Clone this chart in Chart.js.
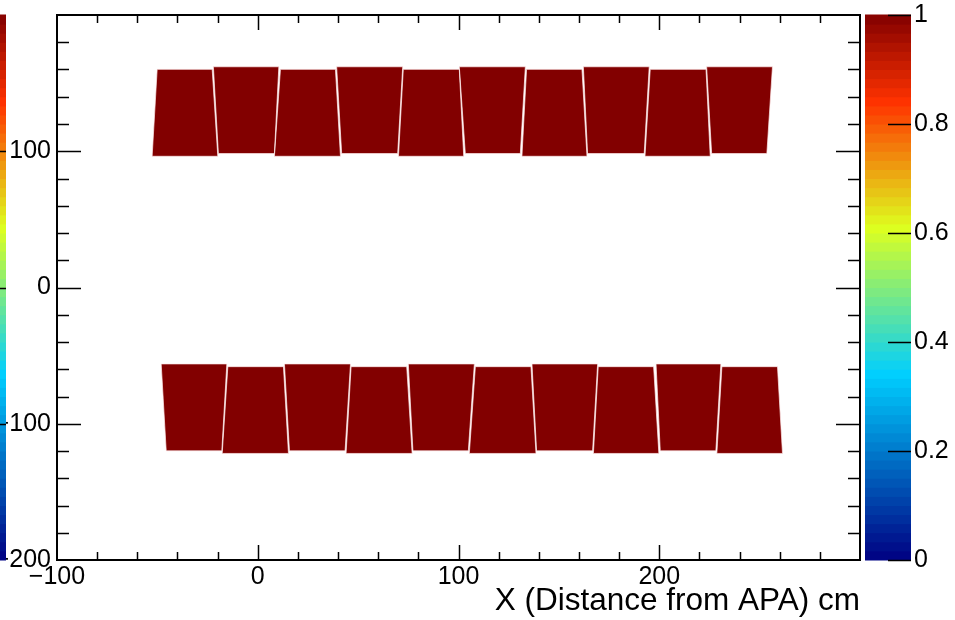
<!DOCTYPE html>
<html>
<head>
<meta charset="utf-8">
<script src="https://cdn.jsdelivr.net/npm/chart.js@4/dist/chart.umd.min.js"></script>
<style>
  html, body { margin: 0; padding: 0; background: #fff; }
  #wrap { width: 955px; height: 620px; position: relative; }
</style>
</head>
<body>
<div id="wrap"><canvas id="c" width="955" height="620"></canvas></div>
<script>
// ---- Data ----
// Top row of trapezoids: x corners [top-left, top-right, bottom-right, bottom-left] (cm)
const topRowX = [
  [-50.1, -22.7, -19.9, -52.6],
  [-22.1, 10.5, 8.3, -19.6],
  [11.3, 38.7, 41.2, 8.3],
  [39.3, 72.2, 69.7, 41.8],
  [72.5, 100.4, 102.6, 70.1],
  [100.4, 133.3, 130.8, 103.4],
  [133.9, 161.5, 164.0, 131.6],
  [162.2, 195.0, 192.5, 164.3],
  [195.5, 223.3, 225.4, 192.9],
  [223.6, 256.4, 253.6, 226.1]
];
// Top row: [top y, bottom y] for each trapezoid
const topRowY = [
  [160.1, 96.3], [162.0, 98.3], [160.1, 96.3], [162.0, 98.3], [160.1, 96.3],
  [162.0, 98.3], [160.1, 96.3], [162.0, 98.3], [160.1, 96.3], [162.0, 98.3]
];
// Bottom row of trapezoids: x corners [top-left, top-right, bottom-right, bottom-left]
const bottomRowX = [
  [-48.1, -15.4, -17.9, -45.6],
  [-14.9, 12.8, 15.3, -17.7],
  [13.3, 46.2, 43.5, 15.8],
  [46.5, 74.2, 76.9, 44.0],
  [75.0, 107.9, 104.9, 77.3],
  [108.4, 136.1, 138.6, 105.4],
  [136.6, 169.3, 166.8, 138.9],
  [169.6, 197.2, 199.8, 167.2],
  [198.4, 230.7, 228.2, 200.5],
  [231.2, 258.9, 261.4, 228.7]
];
const bottomRowY = [
  [-56.1, -119.9], [-58.1, -121.8], [-56.1, -119.9], [-58.1, -121.8], [-56.1, -119.9],
  [-58.1, -121.8], [-56.1, -119.9], [-58.1, -121.8], [-56.1, -119.9], [-58.1, -121.8]
];
// Z value (colour) of every cell
const cellZ = 1;

// Tick labels
const xTickLabels = { '-100': '\u2212100', '0': '0', '100': '100', '200': '200' };
const yTickLabels = { '-200': '\u2212200', '-100': '\u2212100', '0': '0', '100': '100' };
const zTickValues = [0, 0.2, 0.4, 0.6, 0.8, 1];
const xTitle = 'X (Distance from APA) cm';

// Palette (ROOT-style 5-stop rainbow)
const palStops = [0, 0.34, 0.61, 0.84, 1];
const palR = [0, 0, 0.87, 1, 0.51];
const palG = [0, 0.81, 1, 0.2, 0];
const palB = [0.51, 1, 0.12, 0, 0];

function palette(t) {
  t = Math.max(0, Math.min(1, t));
  let i = 0;
  while (i < palStops.length - 2 && t > palStops[i + 1]) i++;
  const f = (t - palStops[i]) / (palStops[i + 1] - palStops[i]);
  const c = (a) => Math.round(255 * (a[i] + f * (a[i + 1] - a[i])));
  return `rgb(${c(palR)},${c(palG)},${c(palB)})`;
}

function polygon(xs, ys) {
  const [tl, tr, br, bl] = xs;
  const [top, bot] = ys;
  return [{x: tl, y: top}, {x: tr, y: top}, {x: br, y: bot}, {x: bl, y: bot}, {x: tl, y: top}];
}

const datasets = [];
function addRow(xsArr, ysArr) {
  xsArr.forEach((xs, i) => {
    datasets.push({
      data: polygon(xs, ysArr[i]),
      showLine: true,
      fill: 'shape',
      backgroundColor: palette(cellZ),
      borderColor: 'rgba(255,235,235,0.7)',
      borderWidth: 1,
      pointRadius: 0,
      pointHoverRadius: 0,
      tension: 0
    });
  });
}
addRow(topRowX, topRowY);
addRow(bottomRowX, bottomRowY);

const FONT = '"Liberation Sans", Arial, Helvetica, sans-serif';
const TICK_FONT = { family: FONT, size: 25 };
const hiddenGrid = (len) => ({ display: true, drawOnChartArea: false, drawTicks: len > 0, tickLength: len, color: 'rgba(0,0,0,0)' });

const framePlugin = {
  id: 'frame',
  afterDraw(chart) {
    const ctx = chart.ctx;
    const a = chart.chartArea;
    const xs = chart.scales.x, ys = chart.scales.y, zs = chart.scales.z;
    ctx.save();
    ctx.strokeStyle = '#000';
    // inward ticks
    ctx.lineWidth = 1.5;
    ctx.beginPath();
    xs.ticks.forEach(t => {
      const v = t.value;
      if (v <= xs.min || v >= xs.max) return;
      const px = Math.round(xs.getPixelForValue(v)) + 0.5;
      const len = (v % 100 === 0) ? 15 : 8;
      ctx.moveTo(px, a.bottom); ctx.lineTo(px, a.bottom - len);
      ctx.moveTo(px, a.top); ctx.lineTo(px, a.top + len);
    });
    ys.ticks.forEach(t => {
      const v = t.value;
      if (v <= ys.min || v >= ys.max) return;
      const py = Math.round(ys.getPixelForValue(v)) + 0.5;
      const len = (v % 100 === 0) ? 24 : 12;
      ctx.moveTo(a.left, py); ctx.lineTo(a.left + len, py);
      ctx.moveTo(a.right, py); ctx.lineTo(a.right - len, py);
    });
    ctx.stroke();
    // frame
    ctx.lineWidth = 2;
    ctx.strokeRect(a.left, a.top, a.right - a.left, a.bottom - a.top);

    // colour bar on the right
    const z0 = zs.getPixelForValue(0), z1 = zs.getPixelForValue(1);
    const bx = a.right + 5, bw = 46;
    const n = 60;
    for (let k = 0; k < n; k++) {
      const ya = z0 + (z1 - z0) * k / n;
      const yb = z0 + (z1 - z0) * (k + 1) / n;
      ctx.fillStyle = palette((k + 0.5) / n);
      ctx.fillRect(bx, Math.min(ya, yb) - 0.5, bw, Math.abs(yb - ya) + 1);
    }
    ctx.lineWidth = 1.5;
    ctx.beginPath();
    zTickValues.forEach(v => {
      const py = Math.round(zs.getPixelForValue(v)) + 0.5;
      ctx.moveTo(bx + bw, py); ctx.lineTo(bx + bw - 23, py);
    });
    ctx.stroke();

    // cropped colour bar of a neighbouring pad at the left edge
    for (let k = 0; k < n; k++) {
      const ya = z0 + (z1 - z0) * k / n;
      const yb = z0 + (z1 - z0) * (k + 1) / n;
      ctx.fillStyle = palette((k + 0.5) / n);
      ctx.fillRect(0, Math.min(ya, yb) - 0.5, 6, Math.abs(yb - ya) + 1);
    }
    ctx.beginPath();
    [100, 0, -100].forEach(v => {
      const py = Math.round(ys.getPixelForValue(v)) + 0.5;
      ctx.moveTo(0, py); ctx.lineTo(6, py);
    });
    ctx.stroke();
    ctx.restore();
  }
};

new Chart(document.getElementById('c'), {
  type: 'scatter',
  data: { datasets },
  options: {
    responsive: false,
    animation: false,
    events: [],
    layout: { padding: { left: 0, right: 0, top: 15, bottom: 0 } },
    plugins: {
      legend: { display: false },
      tooltip: { enabled: false },
      filler: { drawTime: 'beforeDatasetsDraw' }
    },
    scales: {
      x: {
        type: 'linear',
        position: 'bottom',
        min: -100, max: 300,
        grid: { display: false, drawTicks: false },
        border: { display: false },
        ticks: {
          stepSize: 20,
          autoSkip: false,
          maxRotation: 0,
          minRotation: 0,
          padding: 2,
          color: '#000',
          font: TICK_FONT,
          callback: (v) => xTickLabels[String(v)] ?? ''
        },
        title: {
          display: true,
          text: xTitle,
          align: 'end',
          color: '#000',
          font: { family: FONT, size: 31.5 },
          padding: { top: 0, bottom: 0 }
        },
        afterFit: (s) => { s.height = 60; }
      },
      y: {
        type: 'linear',
        position: 'left',
        min: -200, max: 200,
        grid: hiddenGrid(6),
        border: { display: false },
        ticks: {
          stepSize: 20,
          autoSkip: false,
          padding: 0,
          color: '#000',
          font: TICK_FONT,
          callback: (v) => yTickLabels[String(v)] ?? ''
        },
        afterFit: (s) => { s.width = 57; }
      },
      z: {
        type: 'linear',
        position: 'right',
        min: 0, max: 1,
        grid: hiddenGrid(54),
        border: { display: false },
        ticks: {
          stepSize: 0.2,
          autoSkip: false,
          padding: 0,
          color: '#000',
          font: TICK_FONT,
          callback: (v) => String(Math.round(v * 10) / 10)
        },
        afterFit: (s) => { s.width = 95; }
      }
    }
  },
  plugins: [framePlugin]
});
</script>
</body>
</html>
